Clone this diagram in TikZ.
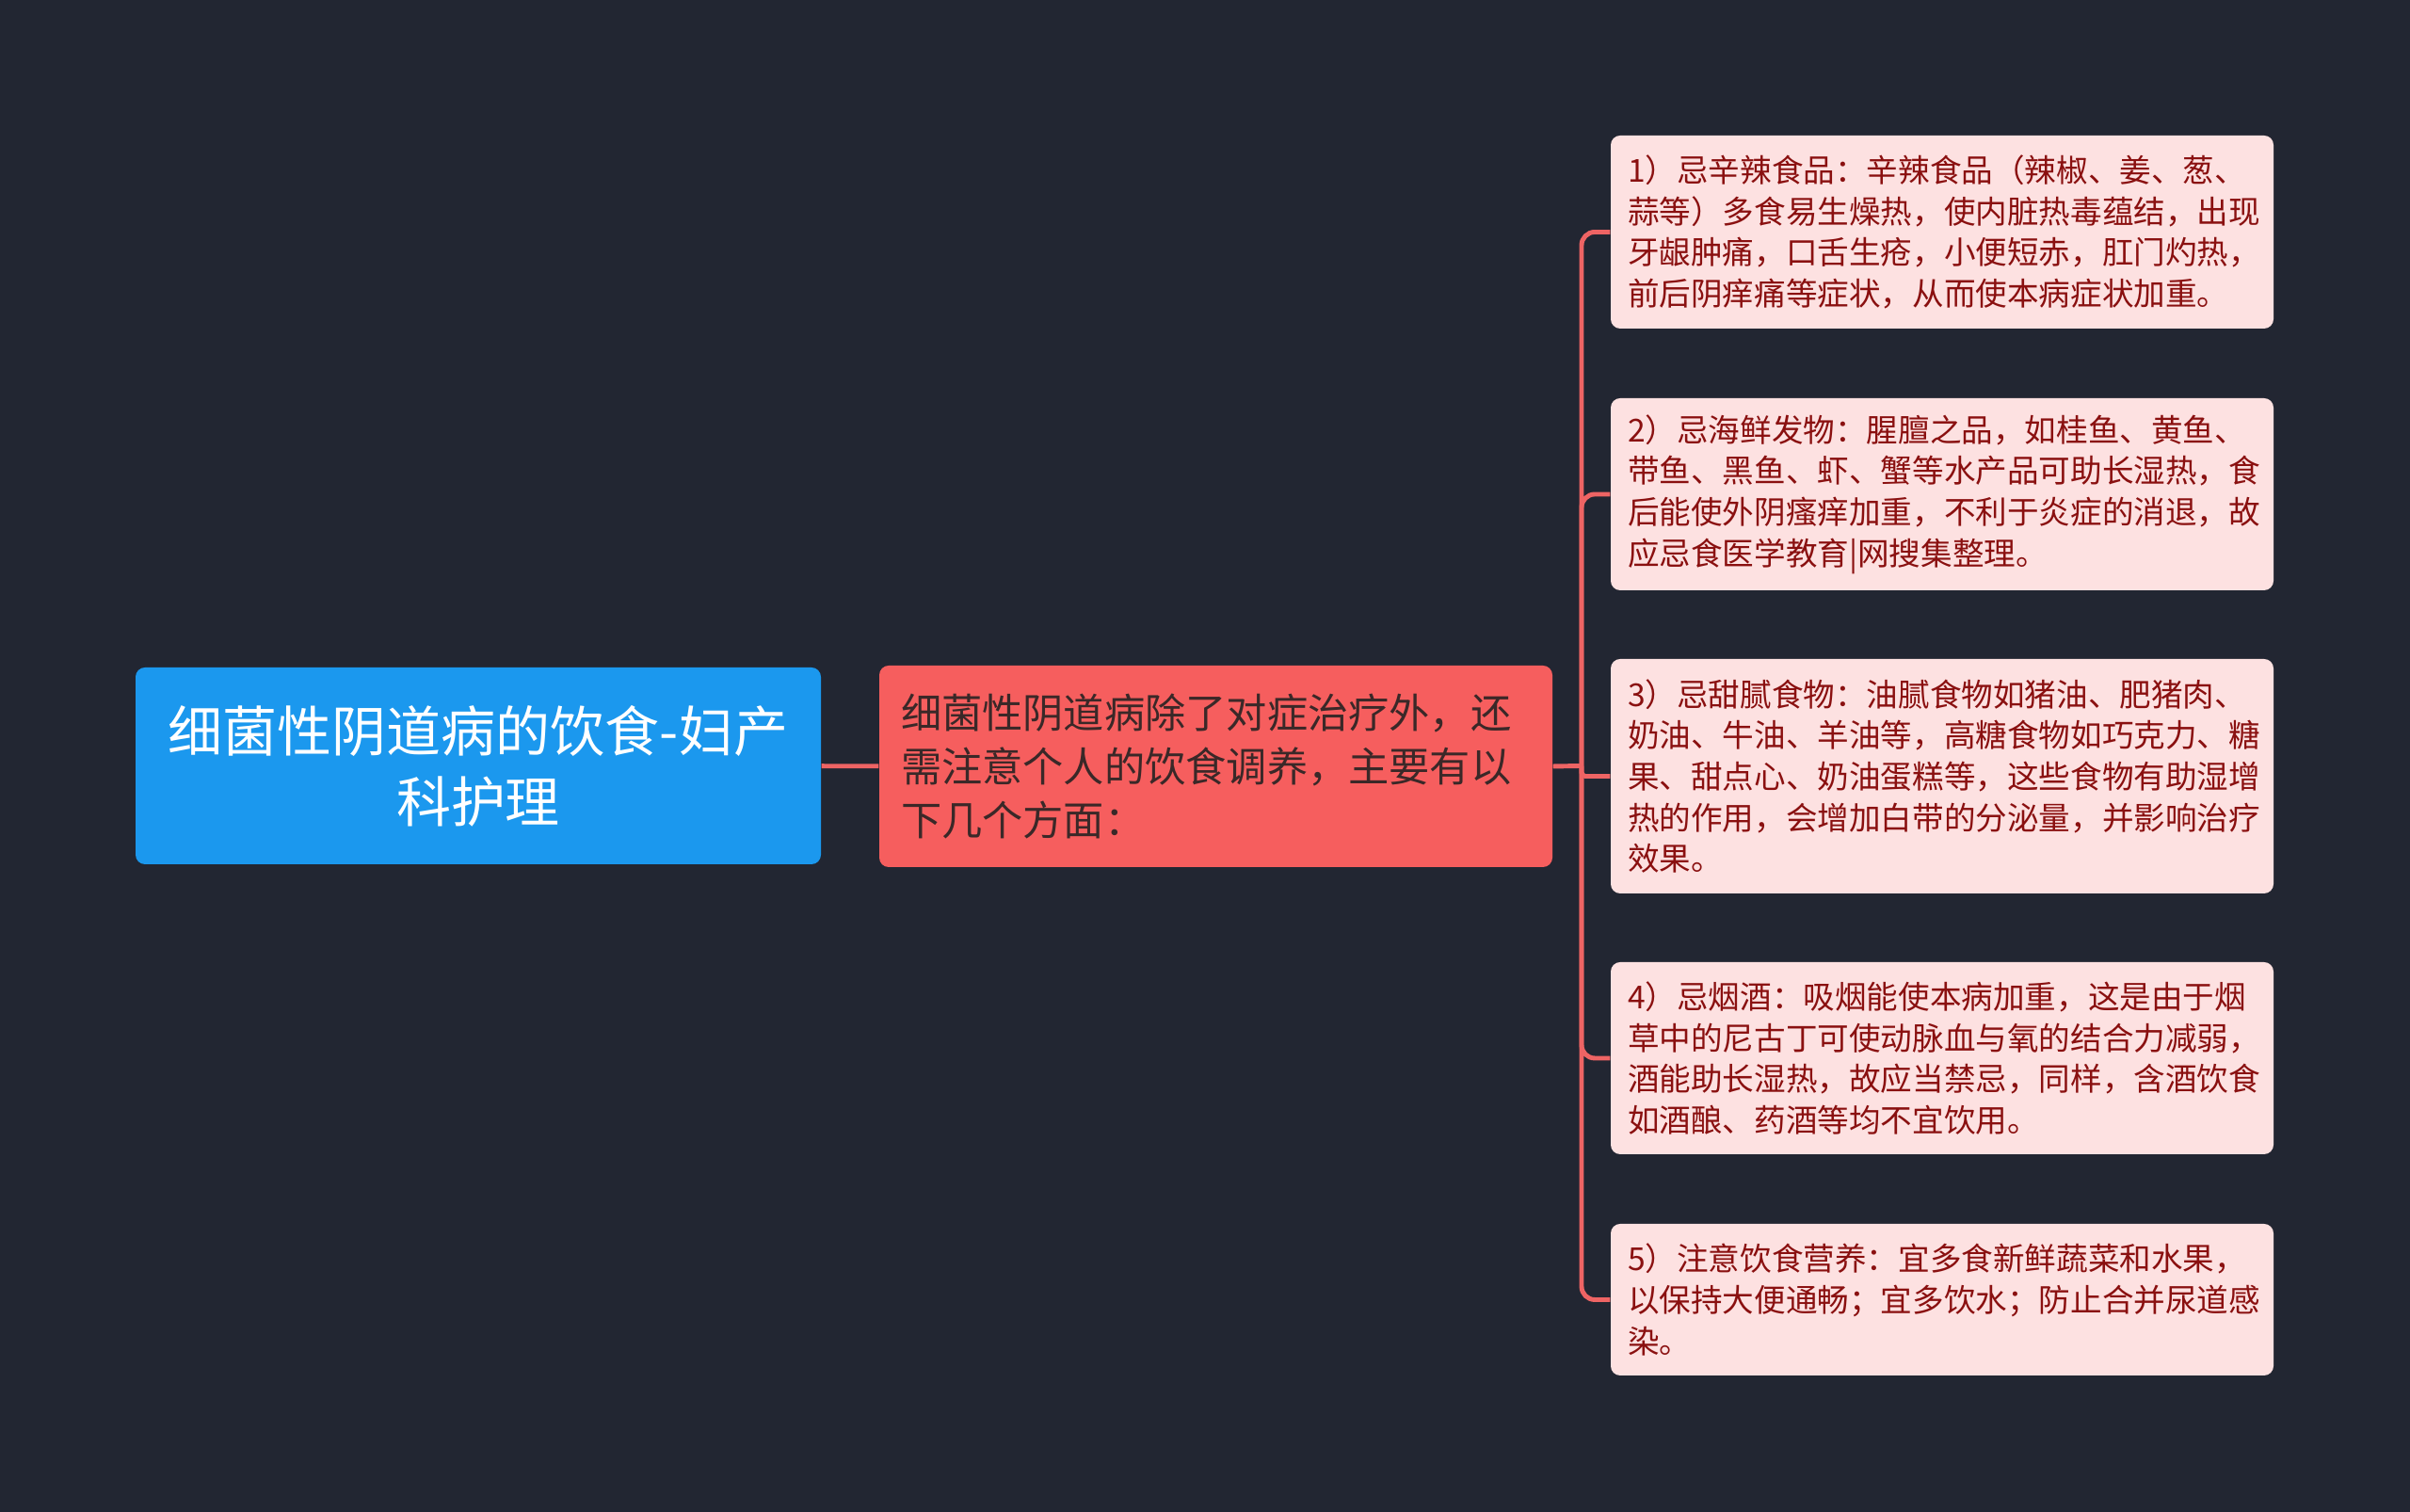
\documentclass[tikz,border=0pt]{standalone}
\usepackage{fontspec}
\usepackage{xcolor}
\setmainfont{Noto Sans CJK SC}

\definecolor{bgdark}{HTML}{222632}
\definecolor{rootblue}{HTML}{1B98EE}
\definecolor{midred}{HTML}{F65E5E}
\definecolor{linkred}{HTML}{EE6464}
\definecolor{leafpink}{HTML}{FDE1E1}
\definecolor{leaftext}{HTML}{8A1010}
\definecolor{midtext}{HTML}{3A2828}

\begin{document}
\begin{tikzpicture}[
    root/.style={fill=rootblue, rounded corners=0.1cm, text=white, align=center,
        minimum width=7.28cm, minimum height=2.09cm, font=\fontsize{16.5}{21.3}\selectfont},
    mid/.style={fill=midred, rounded corners=0.1cm, text=midtext, align=left,
        text width=6.69cm, inner xsep=0.23cm, minimum height=2.14cm,
        font=\fontsize{12.3}{16.2}\selectfont},
    leaf/.style={fill=leafpink, rounded corners=0.1cm, text=leaftext, align=left,
        text width=6.68cm, inner xsep=0.18cm, font=\fontsize{9.56}{12.4}\selectfont},
    link/.style={draw=linkred, line width=1.4pt}]
    \fill[bgdark] (0, 0) rectangle (25.6, 16.06);
    \useasboundingbox (0, 0) rectangle (25.6, 16.06);

    \node[root] (topic) at (5.08, 7.925) {细菌性阴道病的饮食-妇产\\科护理};
    \node[mid] (intro) at (12.915, 7.92) {细菌性阴道病除了对症治疗外，还\\需注意个人的饮食调养，主要有以\\下几个方面：};

    \node[leaf, minimum height=2.05cm] (spicy) at (20.63, 13.595) {1）忌辛辣食品：辛辣食品（辣椒、姜、葱、\\蒜等）多食易生燥热，使内脏热毒蕴结，出现\\牙龈肿痛，口舌生疮，小便短赤，肛门灼热，\\前后阴痒痛等症状，从而使本病症状加重。};
    \node[leaf, minimum height=2.04cm] (seafood) at (20.63, 10.81) {2）忌海鲜发物：腥膻之品，如桂鱼、黄鱼、\\带鱼、黑鱼、虾、蟹等水产品可助长湿热，食\\后能使外阴瘙痒加重，不利于炎症的消退，故\\应忌食医学教育|网搜集整理。};
    \node[leaf, minimum height=2.49cm] (sweet) at (20.63, 7.815) {3）忌甜腻食物：油腻食物如猪油、肥猪肉、\\奶油、牛油、羊油等，高糖食物如巧克力、糖\\果、甜点心、奶油蛋糕等，这些食物有助湿增\\热的作用，会增加白带的分泌量，并影响治疗\\效果。};
    \node[leaf, minimum height=2.04cm] (smoke) at (20.63, 4.82) {4）忌烟酒：吸烟能使本病加重，这是由于烟\\草中的尼古丁可使动脉血与氧的结合力减弱，\\酒能助长湿热，故应当禁忌，同样，含酒饮食\\如酒酿、药酒等均不宜饮用。};
    \node[leaf, minimum height=1.61cm] (diet) at (20.63, 2.255) {5）注意饮食营养：宜多食新鲜蔬菜和水果，\\以保持大便通畅；宜多饮水；防止合并尿道感\\染。};

    \coordinate (fork) at (16.80, 7.925);
    \draw[link] (topic) -- (intro);
    \draw[link] (intro.east) -- (fork);
    \foreach \leafname in {spicy, seafood, smoke, diet}
        \draw[link, rounded corners=0.14cm] (fork) |- (\leafname.west);
    \draw[link, rounded corners=0.04cm] (fork) |- (sweet.west);
\end{tikzpicture}
\end{document}
